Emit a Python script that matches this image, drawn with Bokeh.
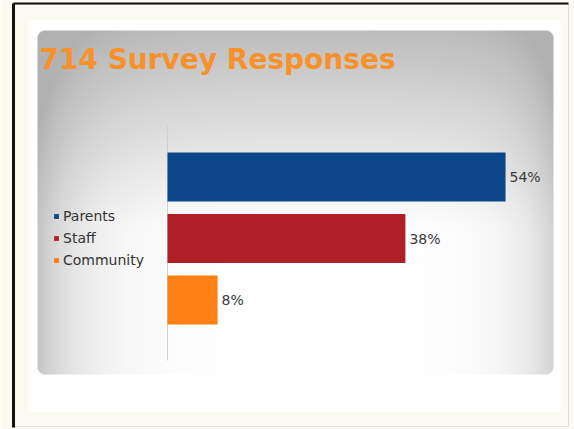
import numpy as np
from bokeh.plotting import figure
from bokeh.models import Range1d, Legend, LegendItem, ColumnDataSource, BoxAnnotation
from bokeh.core.properties import value
from bokeh.embed import file_html
from bokeh.resources import INLINE

# ---- data ----
categories = ["Parents", "Staff", "Community"]
percents = [54, 38, 8]
labels = ["54%", "38%", "8%"]
colors = ["#0b4689", "#b01f27", "#fe7f14"]
title_text = "714 Survey Responses"

W, H = 574, 429
# pixel <-> data helpers for decorations only
PX0, PXS = 167.0, 6.26     # x pixel of 0%, pixels per %
PY0, PYS = 176.5, 61.5     # y pixel of first category, pixels per category


def X(px):
    return (px - PX0) / PXS


def Y(py):
    return (PY0 - py) / PYS


p = figure(width=W, height=H, output_backend="svg", toolbar_location=None,
           x_range=Range1d(X(0), X(W)), y_range=Range1d(Y(H), Y(0)),
           min_border=0, x_axis_type=None, y_axis_type=None)
p.outline_line_color = None
p.grid.visible = False
p.background_fill_color = "#fbfaf1"
p.border_fill_color = "#fbfaf1"

# outer frame lines
p.add_layout(BoxAnnotation(left=X(13), right=X(568), top=Y(4), bottom=Y(426),
                           fill_color="#fbfaf1", fill_alpha=1, level="underlay",
                           line_color="#9a9a9a", line_width=1))
# white slide body
p.add_layout(BoxAnnotation(left=X(28), right=X(560), top=Y(20), bottom=Y(411),
                           fill_color="#ffffff", fill_alpha=1, line_color=None,
                           level="underlay"))
p.segment(x0=[X(13), X(13)], y0=[Y(3), Y(3)], x1=[X(13), X(568)], y1=[Y(427), Y(3)],
          line_color="#111111", line_width=[3, 2])

# gray gradient panel with rounded corners
x0p, x1p, y0p, y1p = 37, 553, 30, 374
pw, ph = x1p - x0p, y1p - y0p
xs = np.arange(pw)[None, :] + x0p + 0.5
ys = np.arange(ph)[:, None] + y0p + 0.5
top = 66 * np.clip((230 - ys) / 200.0, 0, 1) ** 1.1
edge = 58 * np.exp(-(xs - x0p) / 45.0) + 45 * np.exp(-(x1p - xs) / 35.0)
edge = edge * (0.6 + 0.4 * np.clip((ys - y0p) / 200.0, 0, 1))
drop = np.clip(top + edge, 0, 78)
br = np.clip(255 - drop, 160, 255)
r = 8
cx = np.clip(xs, x0p + r, x1p - r)
cy = np.clip(ys, y0p + r, y1p - r)
inside = ((xs - cx) ** 2 + (ys - cy) ** 2) <= r * r
img = np.zeros((ph, pw), dtype=np.uint32)
view = img.view(dtype=np.uint8).reshape((ph, pw, 4))
b8 = br.astype(np.uint8)
view[:, :, 0] = b8
view[:, :, 1] = b8
view[:, :, 2] = b8
view[:, :, 3] = np.where(inside, 255, 0).astype(np.uint8)
img = img[::-1]
p.image_rgba(image=[img], x=X(x0p), y=Y(y1p), dw=X(x1p) - X(x0p), dh=Y(y0p) - Y(y1p))

# title
p.text(x=[X(39)], y=[Y(59)], text=[title_text], text_font=value("DejaVu Sans"),
       text_font_style="bold", text_font_size="28px", text_color="#f8912a",
       text_baseline="middle", text_align="left")

# category axis line
p.segment(x0=[0], x1=[0], y0=[Y(125)], y1=[Y(360)], line_color="#d0d0d0", line_width=1)

# bars
ypos = [-i for i in range(len(categories))]
src = ColumnDataSource(dict(y=ypos, right=percents, color=colors, label=labels, cat=categories))
bars = p.hbar(y="y", left=0, right="right", height=0.8, fill_color="color",
              line_color=None, source=src)
p.text(x="right", y="y", text="label", source=src, x_offset=4,
       text_font=value("DejaVu Sans"), text_font_size="14px", text_color="#3a3a3a",
       text_baseline="middle", text_align="left")

items = [LegendItem(label=c, renderers=[bars], index=i) for i, c in enumerate(categories)]
legend = Legend(items=items, location=(53, H - 206 - 64), orientation="vertical",
                background_fill_alpha=0, border_line_color=None, padding=0, margin=0,
                spacing=2, glyph_width=6, glyph_height=6, label_height=20,
                label_standoff=4, label_text_font="DejaVu Sans",
                label_text_font_size="14px", label_text_color="#333333")
p.add_layout(legend, "center")

open("out.html", "w").write(file_html(p, INLINE))
